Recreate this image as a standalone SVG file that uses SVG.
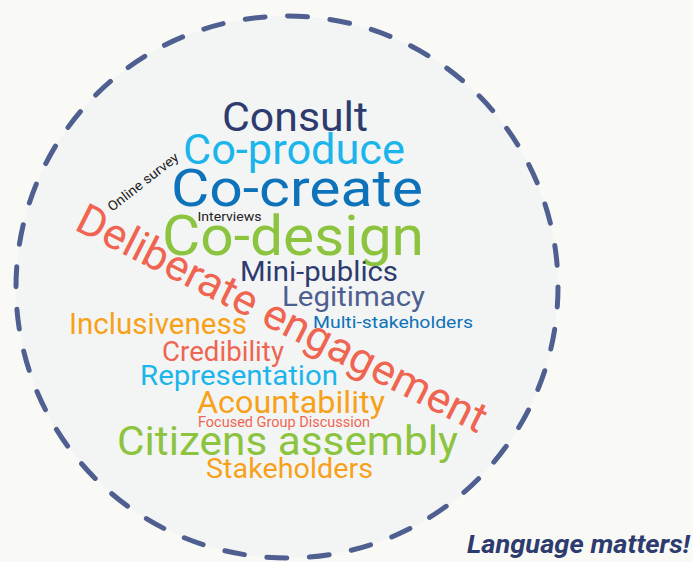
<svg xmlns="http://www.w3.org/2000/svg" width="693" height="562" viewBox="0 0 693 562">
<style>
  text { font-family: Roboto, "Liberation Sans", sans-serif; }
  .navy { fill: #2e3b6e; }
  .sky { fill: #1cb5eb; }
  .blue { fill: #0d72b9; }
  .green { fill: #8cc43f; }
  .red { fill: #ef6552; }
  .slate { fill: #4f5f90; }
  .orange { fill: #f7a11a; }
  .dark { fill: #222222; }
</style>
<rect x="0" y="0" width="693" height="562" fill="#f9faf6"/>
<circle id="ring" cx="287" cy="287" r="271" fill="#f3f5f5" stroke="#4f5f90" stroke-width="5" stroke-linecap="round" stroke-dasharray="20 22.57"/>
<g id="cloud">
  <text class="navy" x="222" y="131" font-size="40" textLength="146" lengthAdjust="spacingAndGlyphs">Consult</text>
  <text class="sky" x="183" y="164" font-size="42" textLength="222" lengthAdjust="spacingAndGlyphs">Co-produce</text>
  <text class="blue" x="171" y="206" font-size="52" textLength="252" lengthAdjust="spacingAndGlyphs">Co-create</text>
  <text class="dark" font-size="13.5" textLength="86" lengthAdjust="spacingAndGlyphs" transform="translate(112,212) rotate(-38)">Online survey</text>
  <text class="dark" x="197.5" y="221" font-size="13" textLength="64" lengthAdjust="spacingAndGlyphs">Interviews</text>
  <text class="green" x="162" y="255" font-size="56" textLength="262" lengthAdjust="spacingAndGlyphs">Co-design</text>
  <text class="red" font-size="43" textLength="454" lengthAdjust="spacingAndGlyphs" transform="translate(73,229) rotate(26.8)">Deliberate engagement</text>
  <text class="navy" x="240" y="281" font-size="27" textLength="158" lengthAdjust="spacingAndGlyphs">Mini-publics</text>
  <text class="slate" x="282" y="306" font-size="27" textLength="143" lengthAdjust="spacingAndGlyphs">Legitimacy</text>
  <text class="blue" x="313" y="328" font-size="16.5" textLength="160" lengthAdjust="spacingAndGlyphs">Multi-stakeholders</text>
  <text class="orange" x="69" y="334" font-size="29" textLength="178" lengthAdjust="spacingAndGlyphs">Inclusiveness</text>
  <text class="red" x="162" y="361" font-size="27" textLength="122" lengthAdjust="spacingAndGlyphs">Credibility</text>
  <text class="sky" x="140" y="384.5" font-size="28" textLength="198" lengthAdjust="spacingAndGlyphs">Representation</text>
  <text class="orange" x="197" y="412.5" font-size="31" textLength="188" lengthAdjust="spacingAndGlyphs">Acountability</text>
  <text class="red" x="198" y="427" font-size="15" textLength="172" lengthAdjust="spacingAndGlyphs">Focused Group Discussion</text>
  <text class="green" x="117" y="455" font-size="40" textLength="341" lengthAdjust="spacingAndGlyphs">Citizens assembly</text>
  <text class="orange" x="206" y="478" font-size="27" textLength="167" lengthAdjust="spacingAndGlyphs">Stakeholders</text>
</g>
<text id="caption" class="navy" x="467" y="553" font-size="25" font-weight="bold" font-style="italic" textLength="223" lengthAdjust="spacingAndGlyphs">Language matters!</text>
</svg>
